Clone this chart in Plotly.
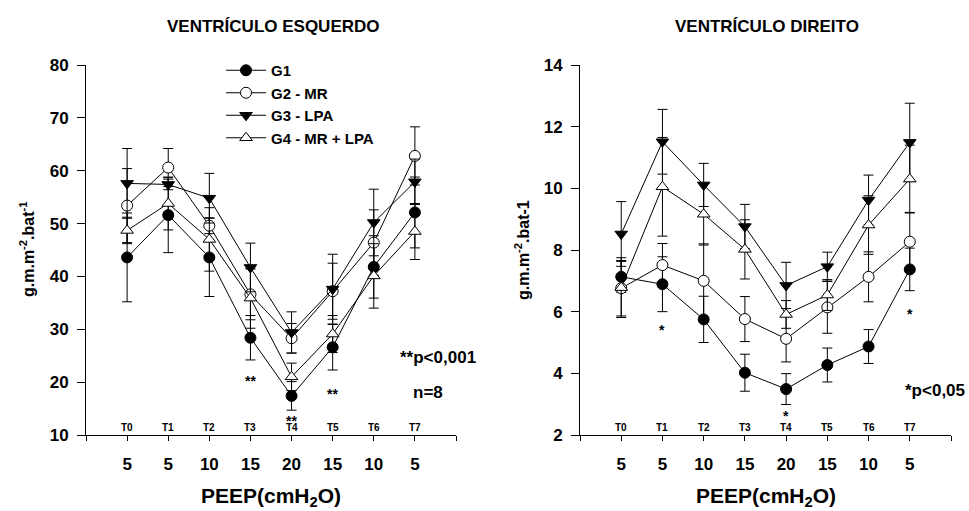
import plotly.graph_objects as go

# ---------------- data ----------------
time_labels = ["T0", "T1", "T2", "T3", "T4", "T5", "T6", "T7"]
peep_labels = ["5", "5", "10", "15", "20", "15", "10", "5"]
group_names = ["G1", "G2 - MR", "G3 - LPA", "G4 - MR + LPA"]

# Ventrículo esquerdo
lv_g1 = [43.6, 51.6, 43.6, 28.4, 17.4, 26.6, 41.8, 52.1]
lv_g2 = [53.4, 60.6, 49.6, 36.6, 28.3, 37.2, 46.4, 62.8]
lv_g3 = [57.6, 57.4, 54.8, 41.7, 29.4, 37.6, 50.2, 57.9]
lv_g4 = [48.7, 53.8, 47.0, 35.9, 21.0, 29.1, 40.1, 48.5]
lv_g1_err = [8.4, 7.1, 7.4, 4.2, 2.7, 4.3, 5.9, 6.7]
lv_g2_err = [7.0, 3.6, 1.5, 4.8, 2.8, 5.3, 6.2, 5.5]
lv_g3_err = [6.6, 1.0, 4.7, 4.6, 3.9, 6.6, 6.3, 4.3]
lv_g4_err = [2.5, 5.0, 6.0, 5.7, 2.6, 3.5, 6.1, 5.3]

# Ventrículo direito
rv_g1 = [7.13, 6.89, 5.75, 4.02, 3.49, 4.27, 4.87, 7.37]
rv_g2 = [6.76, 7.51, 7.00, 5.76, 5.12, 6.14, 7.13, 8.27]
rv_g3 = [8.52, 11.51, 10.11, 8.76, 6.85, 7.46, 9.62, 11.49]
rv_g4 = [6.78, 10.05, 9.16, 8.02, 5.91, 6.54, 8.81, 10.30]
rv_g1_err = [0.50, 0.89, 0.75, 0.60, 0.50, 0.55, 0.55, 0.69]
rv_g2_err = [0.90, 0.70, 1.20, 0.73, 0.75, 0.84, 0.81, 0.95]
rv_g3_err = [1.05, 1.05, 0.70, 0.72, 0.75, 0.47, 0.81, 1.27]
rv_g4_err = [0.97, 1.60, 1.00, 0.96, 0.45, 0.50, 0.95, 1.10]

# significance marks: (time index, value, text)
lv_marks = [(3, 20.2, "**"), (4, 12.6, "**"), (5, 17.7, "**")]
rv_marks = [(1, 5.40, "*"), (4, 2.62, "*"), (7, 5.92, "*")]

# ---------------- style ----------------
FONT = "Liberation Sans, Arial, Helvetica, sans-serif"
W, H = 969, 511
xi = list(range(len(time_labels)))
styles = [
    dict(symbol="circle", color="black"),
    dict(symbol="circle", color="white"),
    dict(symbol="triangle-down", color="black"),
    dict(symbol="triangle-up", color="white"),
]

fig = go.Figure()

def add_panel(series, errs, xa, ya, show):
    for name, ys, es, st in zip(group_names, series, errs, styles):
        fig.add_trace(go.Scatter(
            x=xi, y=ys, name=name, mode="lines+markers",
            xaxis=xa, yaxis=ya, showlegend=show,
            line=dict(color="black", width=1),
            marker=dict(symbol=st["symbol"], color=st["color"], size=11,
                        line=dict(color="black", width=1)),
            error_y=dict(type="data", array=es, visible=True,
                         color="black", thickness=1, width=5),
        ))

add_panel([lv_g1, lv_g2, lv_g3, lv_g4], [lv_g1_err, lv_g2_err, lv_g3_err, lv_g4_err], "x", "y", True)
add_panel([rv_g1, rv_g2, rv_g3, rv_g4], [rv_g1_err, rv_g2_err, rv_g3_err, rv_g4_err], "x2", "y2", False)

yb, yt = 1 - 435 / H, 1 - 65 / H
xd1 = [86 / W, 456 / W]
xd2 = [580 / W, 951 / W]

xcommon = dict(range=[-1, 8], tickvals=[-1] + xi + [8], ticktext=[""] + peep_labels + [""],
               showline=True, linecolor="black", linewidth=1, ticks="outside", ticklen=5,
               tickcolor="black", showgrid=False, zeroline=False, automargin=False,
               tickfont=dict(size=17, color="black"), ticklabelstandoff=9)
ycommon = dict(showline=True, linecolor="black", linewidth=1, ticks="outside", ticklen=8,
               tickcolor="black", showgrid=False, zeroline=False, automargin=False,
               tickfont=dict(size=17, color="black"), ticklabelstandoff=5)

fig.update_layout(
    width=W, height=H, margin=dict(l=0, r=0, t=0, b=0, pad=0, autoexpand=False),
    paper_bgcolor="white", plot_bgcolor="white",
    font=dict(family=FONT, color="black", weight="bold"),
    xaxis=dict(domain=xd1, anchor="y", **xcommon),
    yaxis=dict(domain=[yb, yt], anchor="x", range=[10, 80], tickvals=[10, 20, 30, 40, 50, 60, 70, 80], **ycommon),
    xaxis2=dict(domain=xd2, anchor="y2", **xcommon),
    yaxis2=dict(domain=[yb, yt], anchor="x2", range=[2, 14], tickvals=[2, 4, 6, 8, 10, 12, 14], **ycommon),
    legend=dict(x=221 / W, y=1 - 54 / H, xanchor="left", yanchor="top",
                font=dict(size=15, color="black"), bgcolor="rgba(0,0,0,0)",
                tracegroupgap=0, itemwidth=40),
)

ann = []
def txt(x, y, s, size, xref="paper", yref="paper", xanchor="center", yanchor="middle", angle=0):
    ann.append(dict(x=x, y=y, text=s, xref=xref, yref=yref, showarrow=False,
                    xanchor=xanchor, yanchor=yanchor, textangle=angle,
                    font=dict(size=size, color="black", family=FONT, weight="bold")))

# titles
txt(273 / W, 1 - 26 / H, "VENTRÍCULO ESQUERDO", 17)
txt(767 / W, 1 - 26 / H, "VENTRÍCULO DIREITO", 17)
# x titles
txt(271 / W, 1 - 497 / H, "PEEP(cmH<sub>2</sub>O)", 21)
txt(765.5 / W, 1 - 497 / H, "PEEP(cmH<sub>2</sub>O)", 21)
# y titles
txt(27 / W, 0.5 * (yb + yt), "g.m.m<sup>-2</sup>.bat<sup>-1</sup>", 16, angle=-90)
txt(522 / W, 0.5 * (yb + yt), "g.m.m<sup>-2</sup>.bat-1", 16, angle=-90)
# time labels
for i, t in enumerate(time_labels):
    txt(i, 1 - 427 / H, t, 10, xref="x", yref="paper")
    txt(i, 1 - 427 / H, t, 10, xref="x2", yref="paper")
# significance marks
for i, v, s in lv_marks:
    txt(i, v, s, 14, xref="x", yref="y")
for i, v, s in rv_marks:
    txt(i, v, s, 14, xref="x2", yref="y2")
txt(478 / W, 1 - 357 / H, "**p<0,001", 17, xanchor="right")
txt(428 / W, 1 - 392 / H, "n=8", 17)
txt(967 / W, 1 - 390 / H, "*p<0,05", 17, xanchor="right")

fig.update_layout(annotations=ann)
fig.write_html("out.html")
